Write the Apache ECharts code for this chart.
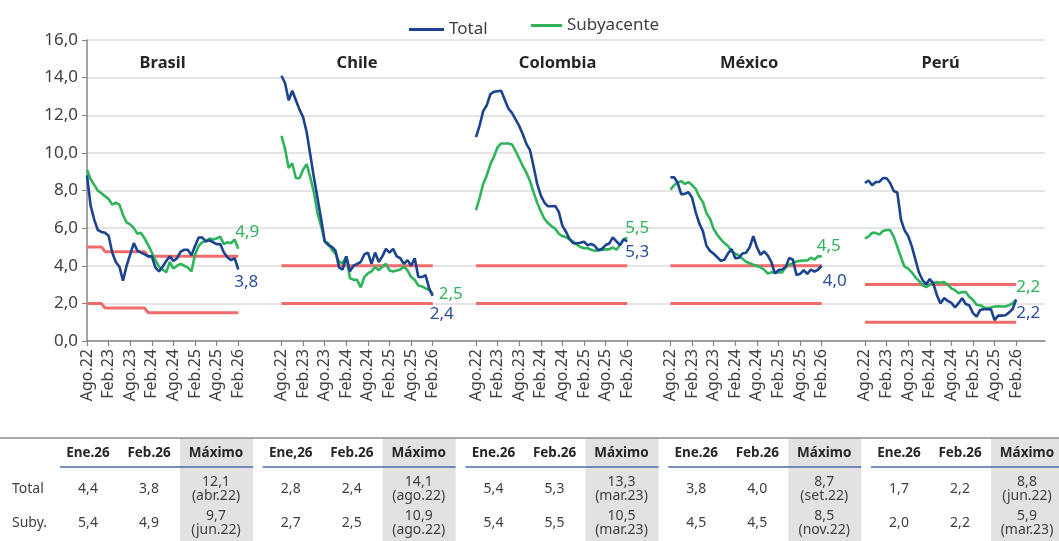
<!DOCTYPE html>
<html>
<head>
<meta charset="utf-8">
<script src="https://cdn.jsdelivr.net/npm/echarts@6/dist/echarts.min.js"></script>
<style>
  html, body { margin: 0; padding: 0; background: #ffffff; }
  #chart { width: 1059px; height: 541px; }
</style>
</head>
<body>
<div id="chart"></div>
<script>
// Monthly 12-month inflation, Aug 2022 - Feb 2026 (%)
const months = [
  'Ago.22','Set.22','Oct.22','Nov.22','Dic.22','Ene.23','Feb.23','Mar.23','Abr.23','May.23','Jun.23','Jul.23',
  'Ago.23','Set.23','Oct.23','Nov.23','Dic.23','Ene.24','Feb.24','Mar.24','Abr.24','May.24','Jun.24','Jul.24',
  'Ago.24','Set.24','Oct.24','Nov.24','Dic.24','Ene.25','Feb.25','Mar.25','Abr.25','May.25','Jun.25','Jul.25',
  'Ago.25','Set.25','Oct.25','Nov.25','Dic.25','Ene.26','Feb.26'
];
const countries = ['Brasil', 'Chile', 'Colombia', 'México', 'Perú'];

const brasilTotal = [8.8, 7.2, 6.45, 5.9, 5.8, 5.75, 5.6, 4.7, 4.2, 3.95, 3.2, 4.0, 4.6, 5.2, 4.8, 4.7, 4.6, 4.5, 4.5, 3.9, 3.7, 3.95, 4.25, 4.5, 4.25, 4.4, 4.75, 4.85, 4.85, 4.55, 5.05, 5.5, 5.5, 5.3, 5.35, 5.25, 5.15, 5.15, 4.7, 4.45, 4.3, 4.4, 3.8];
const brasilCore  = [9.1, 8.6, 8.3, 8.0, 7.85, 7.7, 7.55, 7.25, 7.35, 7.25, 6.7, 6.3, 6.2, 6.0, 5.7, 5.75, 5.45, 5.1, 4.7, 4.3, 3.95, 3.8, 3.65, 4.2, 3.85, 4.0, 4.1, 4.0, 3.9, 3.7, 4.6, 5.05, 5.25, 5.3, 5.45, 5.4, 5.45, 5.55, 5.15, 5.25, 5.2, 5.4, 4.9];

const chileTotal = [14.1, 13.7, 12.8, 13.3, 12.8, 12.3, 11.9, 11.1, 9.9, 8.7, 7.6, 6.5, 5.3, 5.1, 5.0, 4.8, 3.9, 3.8, 4.5, 3.7, 4.0, 4.1, 4.2, 4.6, 4.7, 4.1, 4.7, 4.2, 4.5, 4.9, 4.7, 4.9, 4.5, 4.4, 4.1, 4.3, 4.0, 4.4, 3.4, 3.4, 3.5, 2.8, 2.4];
const chileCore  = [10.9, 10.2, 9.2, 9.45, 8.65, 8.65, 9.1, 9.4, 8.7, 7.9, 6.8, 6.1, 5.3, 5.2, 4.85, 4.65, 4.2, 4.15, 4.5, 3.35, 3.25, 3.25, 2.85, 3.4, 3.6, 3.7, 3.95, 3.75, 3.95, 4.1, 3.75, 3.7, 3.75, 3.8, 3.95, 3.75, 3.4, 3.25, 2.95, 2.9, 2.8, 2.7, 2.5];

const colombiaTotal = [10.84, 11.44, 12.22, 12.53, 13.12, 13.25, 13.28, 13.3, 12.82, 12.36, 12.13, 11.78, 11.43, 10.99, 10.48, 10.15, 9.28, 8.35, 7.74, 7.36, 7.16, 7.16, 7.18, 6.86, 6.12, 5.81, 5.41, 5.2, 5.2, 5.22, 5.28, 5.09, 5.16, 5.05, 4.82, 4.9, 5.1, 5.18, 5.51, 5.3, 5.1, 5.4, 5.3];
const colombiaCore  = [6.95, 7.6, 8.35, 8.8, 9.4, 9.8, 10.3, 10.5, 10.5, 10.5, 10.45, 10.1, 9.7, 9.3, 8.95, 8.5, 7.9, 7.35, 6.9, 6.5, 6.27, 6.1, 5.97, 5.7, 5.58, 5.52, 5.4, 5.27, 5.12, 5.0, 4.93, 4.93, 4.85, 4.8, 4.83, 4.84, 4.87, 4.87, 4.97, 4.85, 5.1, 5.4, 5.5];

const mexicoTotal = [8.7, 8.7, 8.41, 7.8, 7.82, 7.91, 7.62, 6.85, 6.25, 5.84, 5.06, 4.79, 4.64, 4.45, 4.26, 4.32, 4.66, 4.88, 4.4, 4.42, 4.65, 4.69, 4.98, 5.57, 4.99, 4.58, 4.76, 4.55, 4.21, 3.59, 3.77, 3.8, 3.93, 4.42, 4.32, 3.51, 3.57, 3.76, 3.57, 3.8, 3.69, 3.8, 4.0];
const mexicoCore  = [8.05, 8.28, 8.42, 8.5, 8.35, 8.45, 8.29, 8.09, 7.67, 7.39, 6.8, 6.5, 5.95, 5.65, 5.4, 5.2, 5.05, 4.76, 4.64, 4.55, 4.37, 4.21, 4.13, 4.05, 4.0, 3.91, 3.8, 3.58, 3.65, 3.66, 3.65, 3.64, 3.93, 4.06, 4.13, 4.23, 4.26, 4.28, 4.28, 4.43, 4.33, 4.5, 4.5];

const peruTotal = [8.4, 8.53, 8.28, 8.45, 8.46, 8.66, 8.65, 8.4, 7.97, 7.89, 6.46, 5.88, 5.58, 5.04, 4.34, 3.64, 3.24, 3.02, 3.29, 3.05, 2.42, 2.0, 2.29, 2.13, 2.03, 1.78, 2.01, 2.27, 1.97, 1.89, 1.48, 1.3, 1.65, 1.69, 1.69, 1.68, 1.11, 1.35, 1.35, 1.37, 1.51, 1.7, 2.2];
const peruCore  = [5.45, 5.55, 5.75, 5.75, 5.65, 5.85, 5.9, 5.9, 5.55, 5.0, 4.45, 3.95, 3.85, 3.65, 3.4, 3.2, 2.97, 2.87, 2.98, 3.08, 3.13, 3.1, 3.13, 3.0, 2.8, 2.7, 2.54, 2.6, 2.6, 2.35, 2.18, 1.93, 1.9, 1.8, 1.75, 1.78, 1.83, 1.85, 1.83, 1.83, 1.9, 2.0, 2.2];

// Target ranges: [month index, value] breakpoints
const brasilTargetHigh = [[0, 5.0], [4, 5.0], [5, 4.75], [16, 4.75], [17, 4.5], [42, 4.5]];
const brasilTargetLow  = [[0, 2.0], [4, 2.0], [5, 1.75], [16, 1.75], [17, 1.5], [42, 1.5]];
const chileTargetHigh    = [[0, 4.0], [42, 4.0]];
const chileTargetLow     = [[0, 2.0], [42, 2.0]];
const colombiaTargetHigh = [[0, 4.0], [42, 4.0]];
const colombiaTargetLow  = [[0, 2.0], [42, 2.0]];
const mexicoTargetHigh   = [[0, 4.0], [42, 4.0]];
const mexicoTargetLow    = [[0, 2.0], [42, 2.0]];
const peruTargetHigh     = [[0, 3.0], [42, 3.0]];
const peruTargetLow      = [[0, 1.0], [42, 1.0]];

// Summary table
const janHeaders = ['Ene.26', 'Ene,26', 'Ene.26', 'Ene.26', 'Ene.26'];
const tableTotalJan = [4.4, 2.8, 5.4, 3.8, 1.7];
const tableTotalFeb = [3.8, 2.4, 5.3, 4.0, 2.2];
const tableTotalMax = [12.1, 14.1, 13.3, 8.7, 8.8];
const tableTotalMaxDate = ['abr.22', 'ago.22', 'mar.23', 'set.22', 'jun.22'];
const tableCoreJan = [5.4, 2.7, 5.4, 4.5, 2.0];
const tableCoreFeb = [4.9, 2.5, 5.5, 4.5, 2.2];
const tableCoreMax = [9.7, 10.9, 10.5, 8.5, 5.9];
const tableCoreMaxDate = ['jun.22', 'ago.22', 'mar.23', 'nov.22', 'mar.23'];

const yTicks = [0, 2, 4, 6, 8, 10, 12, 14, 16];

// ---------------------------------------------------------------
const totals = [brasilTotal, chileTotal, colombiaTotal, mexicoTotal, peruTotal];
const cores = [brasilCore, chileCore, colombiaCore, mexicoCore, peruCore];
const targetsHigh = [brasilTargetHigh, chileTargetHigh, colombiaTargetHigh, mexicoTargetHigh, peruTargetHigh];
const targetsLow = [brasilTargetLow, chileTargetLow, colombiaTargetLow, mexicoTargetLow, peruTargetLow];

const BLOCK = 54;        // months per country panel incl. spacing
const TAIL = 8;          // empty slots after the last panel
const FONT = '"Noto Sans", "DejaVu Sans", sans-serif';
const BLUE = '#1b438f';
const GREEN = '#2fb35b';
const RED = '#f26b6b';
const TEXT = '#404040';

const fmt = v => v.toFixed(1).replace('.', ',');

const categories = [];
for (let b = 0; b < countries.length; b++) {
  months.forEach(m => categories.push(countries[b] + '|' + m));
  if (b < countries.length - 1) {
    for (let k = months.length; k < BLOCK; k++) categories.push('gap' + b + '_' + k);
  }
}
for (let k = 0; k < TAIL; k++) categories.push('tail_' + k);

function isTick(idx) {
  const b = Math.floor(idx / BLOCK);
  const o = idx - b * BLOCK;
  return b < countries.length && o < months.length && o % 6 === 0;
}

const placed = (vals, b) => vals.map((v, i) => [b * BLOCK + i, v]);
const placedPairs = (pairs, b) => pairs.map(p => [b * BLOCK + p[0], p[1]]);

// Offsets of the closing-value labels [total, core]
const endLabelOffsets = [
  [[8, 13], [9, -17]],
  [[9, 18], [18, 0]],
  [[10, 11], [10, -9]],
  [[13, 15], [7, -10]],
  [[12, 14], [12, -12]]
];
const titleOffsets = [0, 0, 6, 3, 0];

function endPoint(vals, b, off, color) {
  const last = vals.length - 1;
  return {
    coord: [b * BLOCK + last, vals[last]],
    value: vals[last],
    label: { show: true, position: 'inside', offset: off, color: color, fontSize: 17, fontFamily: FONT,
             formatter: p => fmt(p.value) }
  };
}

const series = [];
countries.forEach((name, b) => {
  [targetsHigh[b], targetsLow[b]].forEach(t => {
    series.push({
      type: 'line', name: 'Meta', data: placedPairs(t, b), symbol: 'none', silent: true,
      lineStyle: { color: RED, width: 3 }, itemStyle: { color: RED }, z: 1
    });
  });
  series.push({
    type: 'line', name: 'Subyacente', data: placed(cores[b], b), symbol: 'none',
    lineStyle: { color: GREEN, width: 2.6 }, itemStyle: { color: GREEN }, z: 2,
    markPoint: {
      symbol: 'circle', symbolSize: 1, itemStyle: { color: 'rgba(0,0,0,0)' }, silent: true,
      data: [endPoint(cores[b], b, endLabelOffsets[b][1], GREEN)]
    }
  });
  series.push({
    type: 'line', name: 'Total', data: placed(totals[b], b), symbol: 'none',
    lineStyle: { color: BLUE, width: 2.6 }, itemStyle: { color: BLUE }, z: 3,
    markPoint: {
      symbol: 'circle', symbolSize: 1, itemStyle: { color: 'rgba(0,0,0,0)' }, silent: true,
      data: [
        endPoint(totals[b], b, endLabelOffsets[b][0], '#2a4f9e'),
        {
          coord: [b * BLOCK + 21, 14.75], name: name,
          label: { show: true, position: 'inside', offset: [titleOffsets[b], 0], formatter: '{b}',
                   color: '#262626', fontSize: 16.5, fontWeight: 'bold', fontFamily: FONT }
        }
      ]
    }
  });
});

// Table drawn as graphic elements
const tableGraphic = [];
const COL0 = 88, COLSTEP = 202.75;
const ROW_H = 453, ROW_T = 489, ROW_S = 523;
function txt(x, y, s, opts) {
  tableGraphic.push({
    type: 'text', x: x, y: y, silent: true,
    style: Object.assign({ text: s, fill: TEXT, font: '14px ' + FONT, textAlign: 'center', textVerticalAlign: 'middle' }, opts || {})
  });
}
tableGraphic.push({ type: 'line', silent: true, shape: { x1: 0, y1: 438, x2: 1059, y2: 438 },
                    style: { stroke: '#555555', lineWidth: 1.2 } });
for (let b = 0; b < countries.length; b++) {
  const cJan = COL0 + b * COLSTEP, cFeb = cJan + 61, cMax = cJan + 128;
  tableGraphic.push({ type: 'rect', silent: true, z: -1,
                      shape: { x: cMax - 36, y: 438.6, width: 73, height: 110 },
                      style: { fill: '#e2e2e2' } });
  tableGraphic.push({ type: 'line', silent: true,
                      shape: { x1: cJan - 28, y1: 467, x2: Math.min(cMax + 37, 1059), y2: 467 },
                      style: { stroke: '#4b6aad', lineWidth: 1.5 } });
  const bold = { font: 'bold 13.5px ' + FONT, fill: '#262626' };
  txt(cJan, ROW_H, janHeaders[b], bold);
  txt(cFeb, ROW_H, 'Feb.26', bold);
  txt(cMax, ROW_H, 'Máximo', bold);
  txt(cJan, ROW_T, fmt(tableTotalJan[b]));
  txt(cFeb, ROW_T, fmt(tableTotalFeb[b]));
  txt(cMax, ROW_T - 7, fmt(tableTotalMax[b]));
  txt(cMax, ROW_T + 7.5, '(' + tableTotalMaxDate[b] + ')');
  txt(cJan, ROW_S, fmt(tableCoreJan[b]));
  txt(cFeb, ROW_S, fmt(tableCoreFeb[b]));
  txt(cMax, ROW_S - 7, fmt(tableCoreMax[b]));
  txt(cMax, ROW_S + 7.5, '(' + tableCoreMaxDate[b] + ')');
}
txt(12, ROW_T, 'Total', { textAlign: 'left' });
txt(12, ROW_S, 'Suby.', { textAlign: 'left' });

const chart = echarts.init(document.getElementById('chart'), null, { renderer: 'canvas' });
chart.setOption({
  animation: false,
  backgroundColor: '#ffffff',
  textStyle: { fontFamily: FONT },
  legend: [
    { data: ['Total'], left: 404, top: 16, icon: 'rect', itemWidth: 35, itemHeight: 3,
      textStyle: { fontSize: 17, color: TEXT, fontFamily: FONT } },
    { data: ['Subyacente'], left: 526, top: 12, icon: 'rect', itemWidth: 31, itemHeight: 3,
      textStyle: { fontSize: 17, color: TEXT, fontFamily: FONT } }
  ],
  grid: { left: 87, right: 14, top: 40, bottom: 200, containLabel: false, outerBoundsMode: 'none' },
  xAxis: {
    type: 'category', data: categories, boundaryGap: false,
    axisLine: { lineStyle: { color: '#858585', width: 1.5 } },
    axisTick: { interval: isTick, length: 5, lineStyle: { color: '#858585', width: 1.2 } },
    axisLabel: {
      interval: isTick, rotate: 90, fontSize: 16, color: TEXT, margin: 8, fontFamily: FONT,
      formatter: v => v.split('|')[1] || ''
    },
    splitLine: { show: false }
  },
  yAxis: {
    type: 'value', min: yTicks[0], max: yTicks[yTicks.length - 1], interval: yTicks[1] - yTicks[0],
    axisLine: { show: true, lineStyle: { color: '#858585', width: 1.5 } },
    axisTick: { show: true, length: 5, lineStyle: { color: '#858585' } },
    axisLabel: { fontSize: 17, color: TEXT, margin: 9, fontFamily: FONT, formatter: v => fmt(v) },
    splitLine: { lineStyle: { color: '#dddddd', width: 1.5 } }
  },
  series: series,
  graphic: tableGraphic
});
</script>
</body>
</html>
